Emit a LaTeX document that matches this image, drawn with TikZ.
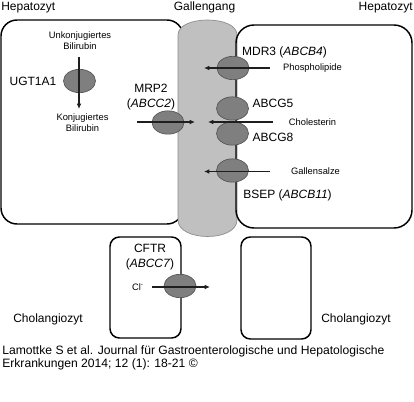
\documentclass[tikz,border=0pt]{standalone}
\usepackage{fontspec}
\setmainfont{Liberation Sans}
\usetikzlibrary{shapes.geometric,arrows.meta,positioning}
\definecolor{tubegray}{RGB}{192,192,192}
\definecolor{tubeedge}{RGB}{140,140,140}
\definecolor{pumpgray}{RGB}{127,127,127}
\definecolor{pumpedge}{RGB}{85,85,85}
\definecolor{flowdark}{RGB}{30,30,30}

\begin{document}
\begin{tikzpicture}[
    x=0.75pt, y=-0.75pt,
    cell/.style={rectangle, draw=black, line width=1.1pt, inner sep=0pt},
    pump/.style={ellipse, draw=pumpedge, line width=0.5pt, fill=pumpgray, minimum width=24pt, minimum height=17.5pt, inner sep=0pt},
    biglabel/.style={font=\fontsize{9}{11.25}\selectfont, inner sep=0pt, align=center},
    smalllabel/.style={font=\fontsize{7}{8.25}\selectfont, inner sep=0pt, align=center},
    citetext/.style={font=\fontsize{9.1}{9.75}\selectfont, inner sep=0pt, anchor=base west},
    flow/.style={draw=flowdark, line width=0.9pt, -{Latex[length=4pt,width=3.5pt]}}
]

\useasboundingbox[fill=white] (0,0) rectangle (414,402);

% Cells
\node[cell, fill=white, rounded corners=12pt, minimum width=136.5pt, minimum height=153pt] (hepL) at (92,122) {};
\path[draw=tubeedge, fill=tubegray, line width=0.5pt] (178,35) .. controls (178,15) and (237,15) .. (237,35)
    -- (237,220) .. controls (237,242) and (178,242) .. (178,220) -- cycle;
\node[cell, rounded corners=13.5pt, minimum width=132pt, minimum height=152.25pt] (hepR) at (324,126.5) {};
\node[cell, rounded corners=7pt, minimum width=53.25pt, minimum height=75.75pt] (cholL) at (145.5,287.5) {};
\node[cell, rounded corners=7pt, minimum width=52.5pt, minimum height=76.5pt] (cholR) at (276,288) {};

% Titles
\node[biglabel, anchor=base west] (hepLlabel) at (1,10.5) {Hepatozyt};
\node[biglabel, anchor=base] (ganglabel) at (204.5,10.5) {Gallengang};
\node[biglabel, anchor=base east] (hepRlabel) at (413,10.5) {Hepatozyt};
\node[biglabel] (cholLlabel) at (48,319) {Cholangiozyt};
\node[biglabel] (cholRlabel) at (356,319) {Cholangiozyt};

% Transporters
\node[pump] (ugt) at (79.5,81) {};
\node[pump] (mrp) at (168,122.5) {};
\node[pump] (mdr) at (233,68) {};
\node[pump] (abcgfive) at (232.5,108.5) {};
\node[pump] (abcgeight) at (232.5,133.5) {};
\node[pump] (bsep) at (232.5,170.5) {};
\node[pump] (cftr) at (180,286) {};

% Labels
\node[smalllabel] (unkonj) at (80,41) {Unkonjugiertes\\Bilirubin};
\node[biglabel] (ugtlabel) at (33,81) {UGT1A1};
\node[smalllabel] (konj) at (82.5,123) {Konjugiertes\\Bilirubin};
\node[biglabel] (mrplabel) at (151,97) {MRP2\\(\textit{ABCC2})};
\node[biglabel] (mdrlabel) at (284.5,52) {MDR3 (\textit{ABCB4})};
\node[smalllabel] (phos) at (312.5,68.5) {Phospholipide};
\node[biglabel] (abcgfivelabel) at (273,103) {ABCG5};
\node[smalllabel] (chol) at (312.5,122) {Cholesterin};
\node[biglabel] (abcgeightlabel) at (273,137.5) {ABCG8};
\node[smalllabel] (salz) at (315.5,171.5) {Gallensalze};
\node[biglabel] (bseplabel) at (287.5,195) {BSEP (\textit{ABCB11})};
\node[biglabel] (cftrlabel) at (150,257) {CFTR\\(\textit{ABCC7})};
\node[smalllabel] (cl) at (138,287) {Cl\textsuperscript{-}};

% Flows
\coordinate (ugtin) at (79,57);
\coordinate (ugtout) at (79,109);
\coordinate (mrpin) at (137,122);
\coordinate (mrpout) at (195,122);
\coordinate (mdrin) at (270,68);
\coordinate (mdrout) at (204,68);
\coordinate (cholin) at (273,122);
\coordinate (cholout) at (208,122);
\coordinate (bsepin) at (270,171.5);
\coordinate (bsepout) at (204,171.5);
\coordinate (clin) at (152,287);
\coordinate (clout) at (210,287);
\draw[flow] (ugtin) -- (ugtout);
\draw[flow] (mrpin) -- (mrpout);
\draw[flow] (mdrin) -- (mdrout);
\draw[flow] (cholin) -- (cholout);
\draw[flow] (bsepin) -- (bsepout);
\draw[flow] (clin) -- (clout);

% Source
\node[citetext] (citeone) at (2,355) {Lamottke S et al. Journal für Gastroenterologische und Hepatologische};
\node[citetext] (citetwo) at (2,368) {Erkrankungen 2014; 12 (1): 18-21 ©};

\end{tikzpicture}
\end{document}
